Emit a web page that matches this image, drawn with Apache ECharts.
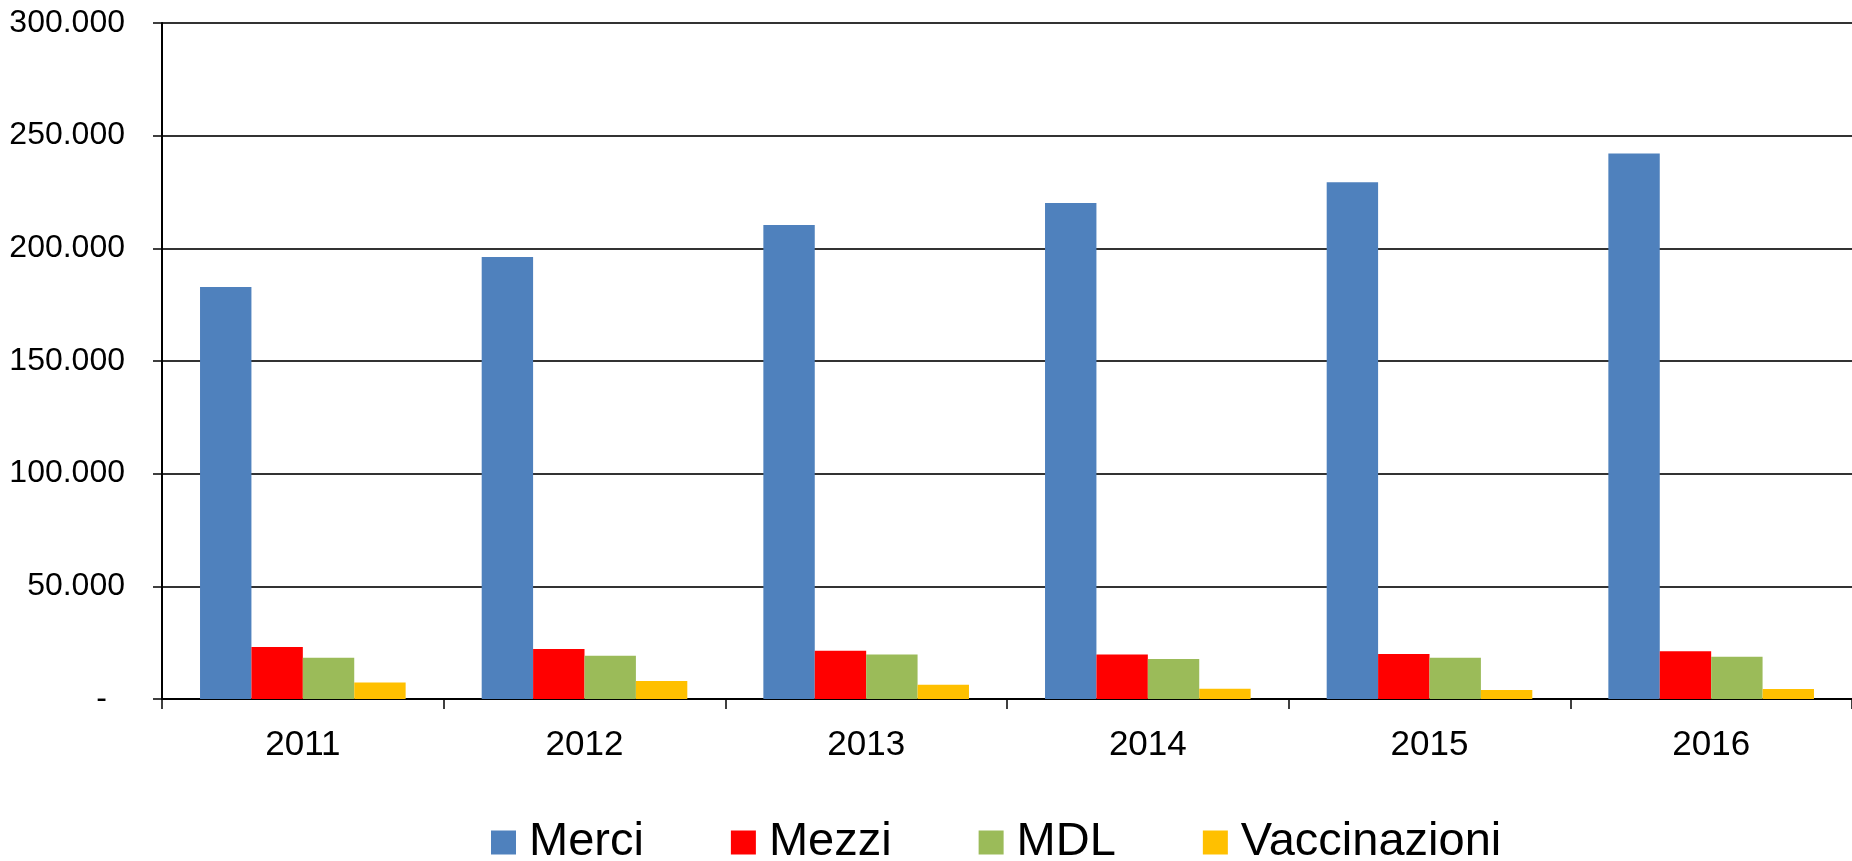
<!DOCTYPE html>
<html>
<head>
<meta charset="utf-8">
<script src="https://cdn.jsdelivr.net/npm/echarts@6/dist/echarts.min.js"></script>
<style>
html,body{margin:0;padding:0;background:#fff;}
#chart{width:1852px;height:861px;}
</style>
</head>
<body>
<div id="chart"></div>
<script>
const categories = ['2011', '2012', '2013', '2014', '2015', '2016'];
const seriesNames = ['Merci', 'Mezzi', 'MDL', 'Vaccinazioni'];
const merci = [182800, 196200, 210400, 220100, 229300, 242100];
const mezzi = [23100, 22200, 21400, 19700, 20000, 21200];
const mdl = [18300, 19200, 19700, 17700, 18300, 18800];
const vaccinazioni = [7300, 8000, 6300, 4600, 4000, 4400];
const colors = ['#4F81BD', '#FF0000', '#9BBB59', '#FFC000'];

const allData = [merci, mezzi, mdl, vaccinazioni];
const FONT = '"Liberation Sans", Arial, sans-serif';

function fmt(v) {
  return String(v).replace(/\B(?=(\d{3})+(?!\d))/g, '.');
}

const chart = echarts.init(document.getElementById('chart'), null, {renderer: 'canvas'});
chart.setOption({
  animation: false,
  backgroundColor: '#ffffff',
  color: colors,
  grid: {left: 162, right: 0, top: 23, bottom: 162, containLabel: false},
  legend: {
    left: 491,
    top: 819,
    padding: 0,
    itemWidth: 25,
    itemHeight: 24,
    itemGap: 87,
    icon: 'rect',
    textStyle: {fontFamily: FONT, fontSize: 47, color: '#000', padding: [0, 0, 0, 8]},
    data: seriesNames
  },
  xAxis: {
    type: 'category',
    data: categories,
    boundaryGap: true,
    axisLine: {lineStyle: {color: '#000', width: 2}},
    axisTick: {show: true, length: 10, lineStyle: {color: '#000', width: 1.5}},
    axisLabel: {fontFamily: FONT, fontSize: 35, color: '#000', margin: 29}
  },
  yAxis: {
    type: 'value',
    min: 0,
    max: 300000,
    interval: 50000,
    axisLine: {show: true, lineStyle: {color: '#000', width: 2}},
    axisTick: {show: true, length: 9, lineStyle: {color: '#000', width: 1.5}},
    splitLine: {show: true, lineStyle: {color: '#333333', width: 2}},
    axisLabel: {
      fontFamily: FONT, fontSize: 32, color: '#000', margin: 37,
      formatter: function (v) { return v === 0 ? '{d|-}' : fmt(v); },
      rich: {d: {fontFamily: FONT, fontSize: 32, color: '#000', padding: [0, 18, 0, 0]}}
    }
  },
  series: seriesNames.map((name, i) => ({
    name: name,
    type: 'bar',
    data: allData[i],
    barGap: '0%',
    barCategoryGap: '27%',
    itemStyle: {color: colors[i]}
  }))
});
</script>
</body>
</html>
